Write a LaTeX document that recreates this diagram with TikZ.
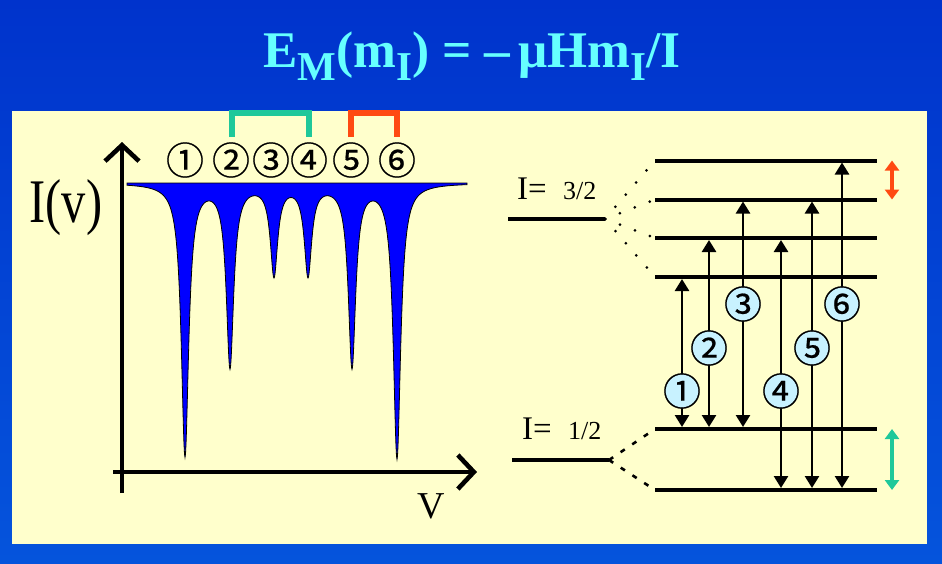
\documentclass[tikz,border=0pt]{standalone}
\usepackage{fontspec}
\setmainfont{Liberation Serif}
\newfontfamily\circfont[FakeBold=0.5]{Noto Sans CJK SC}
\usetikzlibrary{arrows.meta}
\definecolor{SlideBlueTop}{HTML}{0033CC}
\definecolor{SlideBlueBot}{HTML}{0554DC}
\definecolor{PanelYellow}{HTML}{FFFFCC}
\definecolor{TitleCyan}{HTML}{66FFFF}
\definecolor{DipBlue}{HTML}{0000FF}
\definecolor{PairGreen}{HTML}{1FC89A}
\definecolor{PairRed}{HTML}{FF4A12}
\definecolor{HaloCyan}{HTML}{C8F2FF}
\newcommand{\lowsub}[1]{\raisebox{-6.5pt}{\fontsize{20.5}{20.5}\selectfont #1}}

\begin{document}
\begin{tikzpicture}[
    x=0.5pt,y=-0.5pt,
    axis/.style={line width=2.3pt,-{Straight Barb[length=8pt,width=17pt,line width=2.3pt]}},
    level/.style={line width=2pt},
    bare/.style={line width=1.6pt},
    trans/.style={line width=1.3pt,shorten <=1pt,shorten >=1pt,
      {Triangle[length=6pt,width=7pt]}-{Triangle[length=6pt,width=7pt]}},
    pair/.style={line width=1.8pt,{Triangle[length=5pt,width=7pt]}-{Triangle[length=5pt,width=7pt]}},
    fandots/.style={line width=1.5pt,line cap=round,dash pattern=on 0pt off 8pt},
    fandash/.style={line width=1.3pt,dash pattern=on 2.5pt off 4.5pt},
    bracket/.style={line width=2.6pt,line join=miter},
    peaklabel/.style={font=\circfont\fontsize{19}{19}\selectfont,inner sep=0pt},
    declare function={lor(\x,\c,\a)=\a*0.2/(((\x-\c)/10)^2+0.2);}
  ]
  \useasboundingbox (0,0) rectangle (942,563);
  \shade[top color=SlideBlueTop,bottom color=SlideBlueBot] (0,0) rectangle (942,563);
  \fill[PanelYellow] (12,111) rectangle (927,544);

  \node[anchor=base,text=TitleCyan,font=\bfseries\fontsize{25.7}{26}\selectfont] (title) at (472,67)
    {E\lowsub{M}(m\lowsub{I}) = –\,μHm\lowsub{I}/I};

  % spectrum
  \fill[DipBlue] (127,183) -- plot[domain=127:467,samples=681]
    (\x,{183+lor(\x,185,272)+lor(\x,230,182)+lor(\x,274,90)+lor(\x,308,90)+lor(\x,352,182)+lor(\x,397,274)})
    -- (467,183) -- cycle;
  \draw[line width=0.4pt] (127,183) -- plot[domain=127:467,samples=681]
    (\x,{183+lor(\x,185,272)+lor(\x,230,182)+lor(\x,274,90)+lor(\x,308,90)+lor(\x,352,182)+lor(\x,397,274)})
    -- (467,183) -- cycle;
  \coordinate (origin) at (122,472);
  \coordinate (ytip) at (122,142);
  \coordinate (xtip) at (477,472);
  \draw[axis] (origin |- 0,493) -- (ytip);
  \draw[axis] (113,472) -- (xtip);
  \node[anchor=base] (ilabel) at (66,222) {\scalebox{0.78}[1]{\fontsize{31}{31}\selectfont I(v)}};
  \node[anchor=base,font=\fontsize{19}{19}\selectfont] (vlabel) at (431,518) {V};

  \foreach \x/\t [count=\i] in {185/①,231/②,271/③,309/④,351/⑤,397/⑥}
    \node[peaklabel] (p\i) at (\x,160) {\t};
  \draw[bracket,PairGreen] (232,137) -- (232,113) -- (309,113) -- (309,137);
  \draw[bracket,PairRed] (351,137) -- (351,113) -- (397,113) -- (397,137);

  % levels
  \coordinate (i32) at (605,219);
  \coordinate (i12) at (609,460);
  \draw[bare] (508,219) -- (i32);
  \draw[bare] (512,460) -- (i12);
  \node[anchor=base west] (l32) at (510,199) {\fontsize{16.5}{16}\selectfont I=\ \ \fontsize{13}{13}\selectfont 3/2};
  \node[anchor=base west] (l12) at (515,439) {\fontsize{16.5}{16}\selectfont I=\ \ \fontsize{13}{13}\selectfont 1/2};
  \foreach \y [count=\i] in {277,238,199.5,160.5} {
    \coordinate (up\i) at (655,\y);
    \draw[level] (up\i) -- (877,\y);
    \draw[fandots] (i32) -- (up\i);
  }
  \foreach \y [count=\i] in {429,490} {
    \coordinate (lo\i) at (655,\y);
    \draw[level] (lo\i) -- (877,\y);
    \draw[fandash] (i12) -- (lo\i);
  }

  % transitions
  \foreach \x/\ly/\lo/\up/\t [count=\i] in {682/391/lo1/up1/①,709/348/lo1/up2/②,743/304/lo1/up3/③,
      781/391/lo2/up2/④,812/348/lo2/up3/⑤,842/304/lo2/up4/⑥} {
    \coordinate (c\i) at (\x,\ly);
    \draw[trans] (c\i |- \lo) -- (c\i |- \up);
    \fill[HaloCyan] (c\i) circle[radius=8.6pt];
    \node[peaklabel] (t\i) at (c\i) {\t};
  }
  \coordinate (gap) at (892,300);
  \draw[pair,PairRed] (gap |- up4) -- (gap |- up3);
  \draw[pair,PairGreen] (gap |- lo1) -- (gap |- lo2);
\end{tikzpicture}
\end{document}
